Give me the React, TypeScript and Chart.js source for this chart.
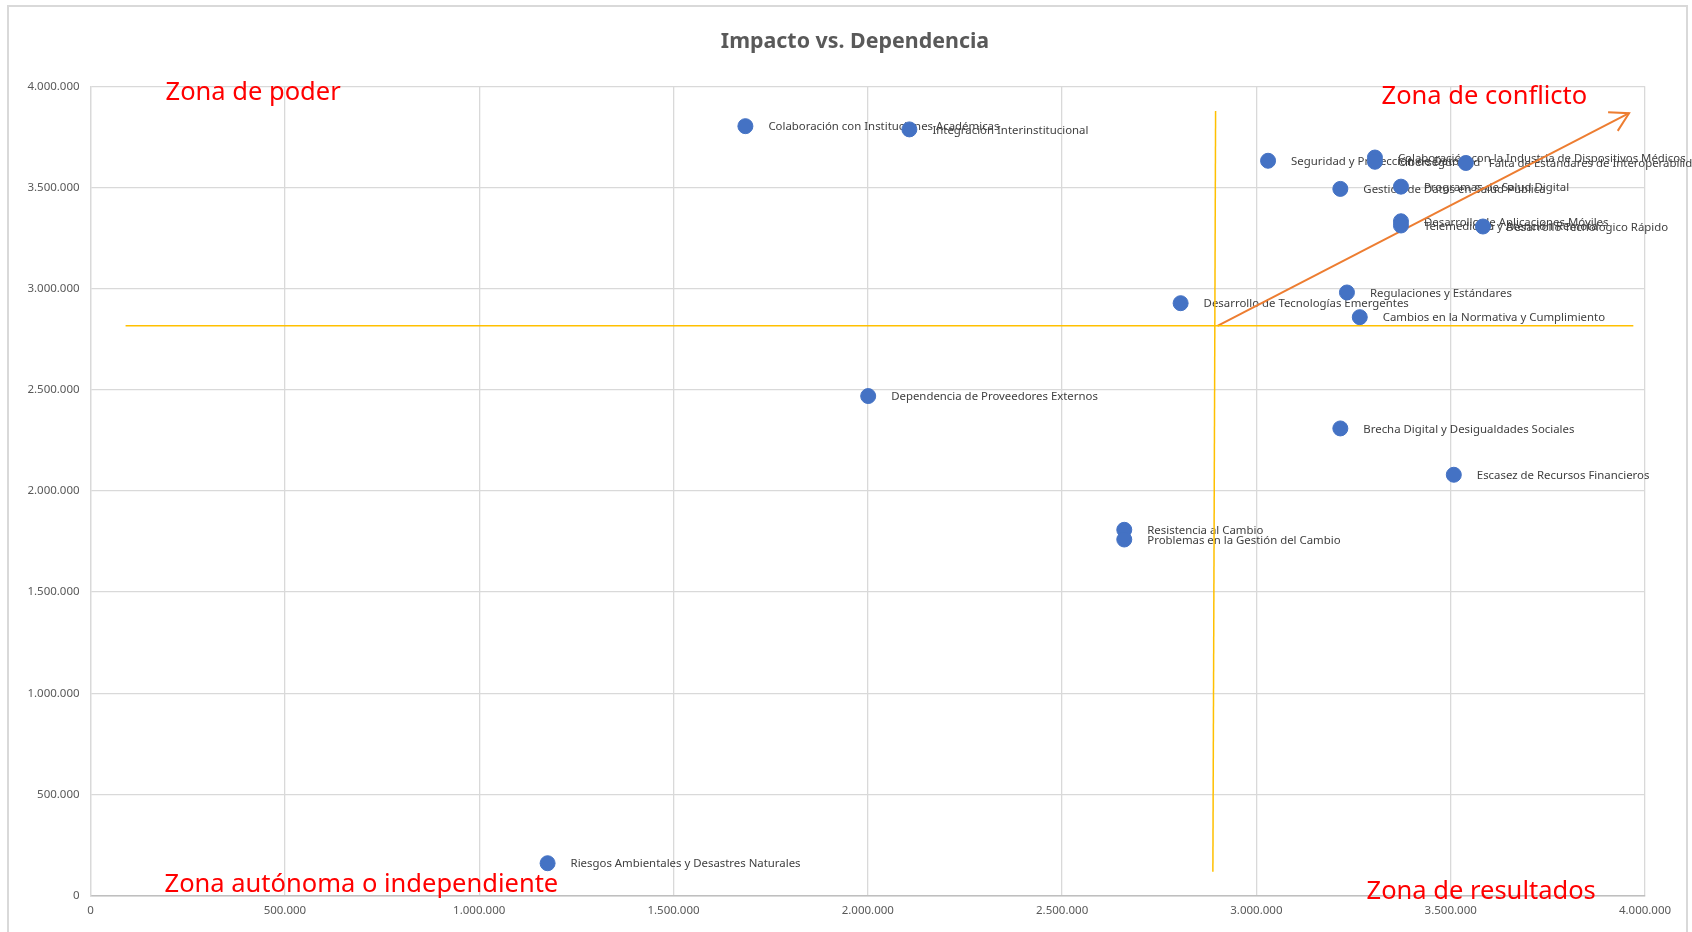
import { useEffect, useRef } from "react";
import { Chart, registerables } from "chart.js";

Chart.register(...registerables);

const chartTitle = "Impacto vs. Dependencia";

const riskNames = [
  "Colaboración con Instituciones Académicas",
  "Integración Interinstitucional",
  "Seguridad y Protección de Datos",
  "Colaboración con la Industria de Dispositivos Médicos",
  "Ciberseguridad",
  "Falta de Estándares de Interoperabilidad",
  "Programas de Salud Digital",
  "Gestión de Datos en Salud Pública",
  "Desarrollo de Aplicaciones Móviles",
  "Telemedicina y Atención Remota",
  "Desarrollo Tecnológico Rápido",
  "Regulaciones y Estándares",
  "Desarrollo de Tecnologías Emergentes",
  "Cambios en la Normativa y Cumplimiento",
  "Dependencia de Proveedores Externos",
  "Brecha Digital y Desigualdades Sociales",
  "Escasez de Recursos Financieros",
  "Resistencia al Cambio",
  "Problemas en la Gestión del Cambio",
  "Riesgos Ambientales y Desastres Naturales",
];

const dependencia = [
  1685000, 2107000, 3030000, 3305000, 3305000, 3539000, 3372000, 3216000, 3372000, 3372000,
  3583000, 3233000, 2805000, 3266000, 2001000, 3216000, 3508000, 2660000, 2660000, 1176000,
];

const impacto = [
  3803000, 3787000, 3632000, 3648000, 3627000, 3621000, 3504000, 3493000, 3333000, 3312000,
  3307000, 2981000, 2928000, 2859000, 2469000, 2309000, 2080000, 1808000, 1760000, 160000,
];

const horizontalLineX = [90000, 3970000];
const horizontalLineY = [2817000, 2817000];
const verticalLineX = [2888000, 2895000];
const verticalLineY = [118000, 3878000];
const arrowX = [2900000, 3959000];
const arrowY = [2816000, 3867000];

const axisMin = 0;
const axisMax = 4000000;
const axisStep = 500000;

const zoneLabels = [
  "Zona de poder",
  "Zona de conflicto",
  "Zona autónoma o independiente",
  "Zona de resultados",
];

const toPoints = (xs: number[], ys: number[]) => xs.map((x, i) => ({ x, y: ys[i] }));

const formatThousands = (v: number) =>
  Math.round(v)
    .toString()
    .replace(/\B(?=(\d{3})+(?!\d))/g, ".");

const FONT = "'Noto Sans', 'Open Sans', sans-serif";

const annotationsPlugin = {
  id: "annotations",
  beforeDatasetsDraw(chart: any) {
    const { ctx, scales } = chart;
    const xs = scales.x;
    const ys = scales.y;
    ctx.save();
    ctx.font = `11.4px ${FONT}`;
    ctx.fillStyle = "#404040";
    ctx.textAlign = "left";
    ctx.textBaseline = "middle";
    riskNames.forEach((name, i) => {
      const px = xs.getPixelForValue(dependencia[i]);
      const py = ys.getPixelForValue(impacto[i]);
      ctx.fillText(name, px + 23, py + 1);
    });
    ctx.restore();
  },
  afterDatasetsDraw(chart: any) {
    const { ctx, scales, chartArea } = chart;
    const xs = scales.x;
    const ys = scales.y;
    ctx.save();
    // arrow head
    const x1 = xs.getPixelForValue(arrowX[0]);
    const y1 = ys.getPixelForValue(arrowY[0]);
    const x2 = xs.getPixelForValue(arrowX[1]);
    const y2 = ys.getPixelForValue(arrowY[1]);
    const back = Math.atan2(y1 - y2, x1 - x2);
    const len = 21;
    const spread = (30 * Math.PI) / 180;
    ctx.strokeStyle = "#ED7D31";
    ctx.lineWidth = 2;
    ctx.beginPath();
    ctx.moveTo(x2 + len * Math.cos(back + spread), y2 + len * Math.sin(back + spread));
    ctx.lineTo(x2, y2);
    ctx.lineTo(x2 + len * Math.cos(back - spread), y2 + len * Math.sin(back - spread));
    ctx.stroke();

    // zone labels
    ctx.font = `25.5px ${FONT}`;
    ctx.fillStyle = "#FF0000";
    ctx.textAlign = "left";
    ctx.textBaseline = "alphabetic";
    const L = chartArea.left;
    const T = chartArea.top;
    const B = chartArea.bottom;
    ctx.fillText(zoneLabels[0], L + 75, T + 14);
    ctx.fillText(zoneLabels[1], L + 1291, T + 18);
    ctx.fillText(zoneLabels[2], L + 74, B - 4);
    ctx.fillText(zoneLabels[3], L + 1276, B + 3);

    // title
    ctx.font = `bold 21.4px ${FONT}`;
    ctx.fillStyle = "#595959";
    ctx.textAlign = "center";
    ctx.textBaseline = "middle";
    ctx.fillText(chartTitle, 855, 42);
    ctx.restore();
  },
};

export default function App() {
  const canvasRef = useRef<HTMLCanvasElement | null>(null);

  useEffect(() => {
    if (!canvasRef.current) return;
    const chart = new Chart(canvasRef.current, {
      type: "scatter",
      data: {
        datasets: [
          {
            label: "Riesgos",
            data: toPoints(dependencia, impacto),
            backgroundColor: "#4472C4",
            borderColor: "#4472C4",
            pointRadius: 7.5,
            pointHoverRadius: 7.5,
            showLine: false,
          },
          {
            label: "Horizontal",
            data: toPoints(horizontalLineX, horizontalLineY),
            borderColor: "#FFC000",
            borderWidth: 1.5,
            pointRadius: 0,
            showLine: true,
          },
          {
            label: "Vertical",
            data: toPoints(verticalLineX, verticalLineY),
            borderColor: "#FFC000",
            borderWidth: 1.5,
            pointRadius: 0,
            showLine: true,
          },
          {
            label: "Flecha",
            data: toPoints(arrowX, arrowY),
            borderColor: "#ED7D31",
            borderWidth: 2,
            pointRadius: 0,
            showLine: true,
          },
        ],
      },
      options: {
        animation: false,
        responsive: true,
        maintainAspectRatio: false,
        layout: { padding: { top: 86.3, right: 47, bottom: 6.4, left: 0 } },
        plugins: {
          legend: { display: false },
          tooltip: { enabled: false },
          title: { display: false },
        },
        scales: {
          x: {
            type: "linear",
            min: axisMin,
            max: axisMax,
            afterFit: (s: any) => {
              s.height = 30;
            },
            ticks: {
              stepSize: axisStep,
              padding: 8,
              color: "#595959",
              font: { size: 11.5, family: FONT },
              callback: (v: any) => formatThousands(Number(v)),
              maxRotation: 0,
            },
            grid: { color: "#d9d9d9", lineWidth: 1.3, drawTicks: false },
            border: { color: "#bfbfbf", width: 1.5 },
          },
          y: {
            type: "linear",
            min: axisMin,
            max: axisMax,
            afterFit: (s: any) => {
              s.width = 90.6;
            },
            ticks: {
              stepSize: axisStep,
              padding: 11,
              color: "#595959",
              font: { size: 11.5, family: FONT },
              callback: (v: any) => formatThousands(Number(v)),
            },
            grid: { color: "#d9d9d9", lineWidth: 1.3, drawTicks: false },
            border: { color: "#d9d9d9", width: 1.3 },
          },
        },
      },
      plugins: [annotationsPlugin],
    });
    return () => chart.destroy();
  }, []);

  return (
    <div
      style={{
        position: "absolute",
        left: 0,
        top: 0,
        width: 1692,
        height: 932,
        overflow: "hidden",
        background: "#ffffff",
      }}
    >
      <div
        style={{
          position: "absolute",
          left: 7,
          top: 5,
          width: 1681,
          height: 1000,
          border: "2px solid #d9d9d9",
          boxSizing: "border-box",
        }}
      />
      <div style={{ position: "absolute", left: 0, top: 0, width: 1692, height: 932 }}>
        <canvas ref={canvasRef} />
      </div>
    </div>
  );
}
